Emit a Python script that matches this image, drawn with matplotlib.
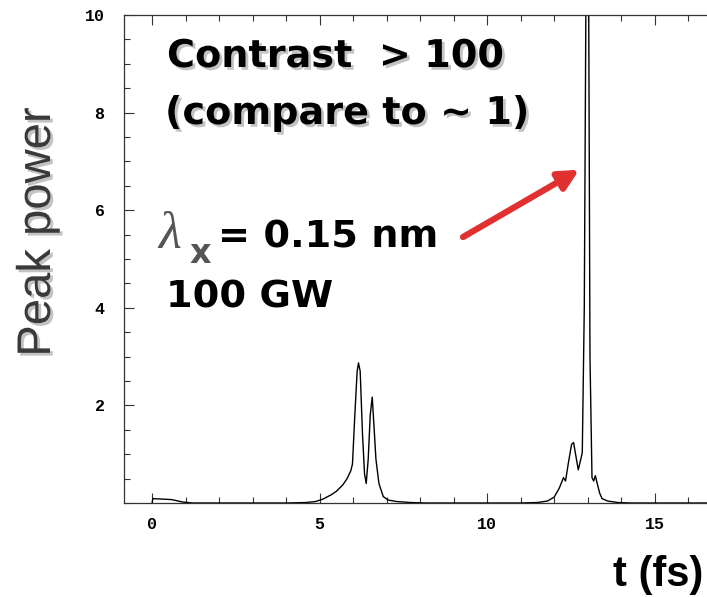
import numpy as np
import matplotlib
matplotlib.use("Agg")
import matplotlib.pyplot as plt
import matplotlib.patheffects as pe
from matplotlib.ticker import MultipleLocator

# pulse profile (t in fs, peak power)
t = [0.0, 0.02, 0.3, 0.58, 0.91, 1.2, 4.0, 4.6, 4.88, 5.1, 5.35, 5.5, 5.69,
     5.82, 5.93, 5.98, 6.05, 6.12, 6.16, 6.21, 6.28, 6.34, 6.39, 6.45, 6.51,
     6.57, 6.62, 6.68, 6.77, 6.9, 7.05, 7.3, 7.7, 8.2, 11.0, 11.5, 11.8,
     12.0, 12.15, 12.28, 12.34, 12.42, 12.52, 12.58, 12.64, 12.72, 12.78,
     12.84, 12.9, 12.95, 12.99, 13.03, 13.07, 13.13, 13.18, 13.23, 13.3,
     13.36, 13.43, 13.6, 13.9, 14.3, 17.0]
power = [0.0, 0.09, 0.08, 0.07, 0.02, 0.0, 0.0, 0.01, 0.03, 0.08, 0.17, 0.24,
         0.37, 0.5, 0.66, 0.8, 1.8, 2.7, 2.87, 2.7, 1.4, 0.6, 0.4, 0.9, 1.8,
         2.17, 1.6, 0.9, 0.4, 0.13, 0.06, 0.03, 0.01, 0.0, 0.0, 0.01, 0.04,
         0.12, 0.3, 0.52, 0.45, 0.8, 1.2, 1.24, 1.0, 0.68, 0.85, 1.03, 4.0,
         10.5, 13.0, 10.5, 3.0, 0.52, 0.45, 0.56, 0.36, 0.2, 0.09, 0.04, 0.01,
         0.0, 0.0]

W, H = 707, 597
fig = plt.figure(figsize=(W / 100, H / 100), dpi=100)

px_per_t = 33.5
t_min, t_max = -0.84, 17.0
left, right = 124, 124 + (t_max - t_min) * px_per_t
bottom, top = 503, 15
ax = fig.add_axes([left / W, 1 - bottom / H, (right - left) / W, (bottom - top) / H])

ax.plot(t, power, color="black", lw=1.0)
ax.set_xlim(t_min, t_max)
ax.set_ylim(0, 10)

ax.xaxis.set_major_locator(MultipleLocator(5))
ax.xaxis.set_minor_locator(MultipleLocator(1))
ax.yaxis.set_minor_locator(MultipleLocator(0.5))
ax.set_yticks([2, 4, 6, 8, 10])
ax.tick_params(which="both", direction="in", top=True, right=False,
               color="#333333")
ax.tick_params(which="major", length=7, width=0.8)
ax.tick_params(which="minor", length=4, width=0.8)
ax.tick_params(axis="y", pad=14)
ax.tick_params(axis="x", pad=10)
for lab in ax.get_xticklabels() + ax.get_yticklabels():
    lab.set_fontfamily("Liberation Mono")
    lab.set_fontsize(12)
    lab.set_fontweight("bold")
for sp in ax.spines.values():
    sp.set_linewidth(0.9)
    sp.set_color("#333333")

shadow = [pe.withSimplePatchShadow(offset=(2, -2), shadow_rgbFace="#888888", alpha=0.5)]
bold = dict(family="DejaVu Sans", weight="bold", color="black")


def fx(x):
    return x / W


def fy(y):
    return 1 - y / H


# y label
fig.text(fx(38), fy(232), "Peak power", rotation=90, ha="center", va="center",
         fontsize=34, family="Liberation Sans", color="#3a3a3a",
         path_effects=shadow)

# x label at the right edge
fig.text(fx(613), fy(586), "t (fs)", ha="left", va="baseline", fontsize=30,
         family="Liberation Sans", weight="bold", color="black")

fig.text(fx(167), fy(67), "Contrast  > 100", ha="left", va="baseline",
         fontsize=27.5, path_effects=shadow, **bold)
fig.text(fx(165), fy(124), "(compare to ~ 1)", ha="left", va="baseline",
         fontsize=27.5, path_effects=shadow, **bold)

fig.text(fx(158), fy(248), "λ", ha="left", va="baseline", fontsize=38,
         family="Liberation Serif", style="italic", color="#555555")
fig.text(fx(190), fy(263), "x", ha="left", va="baseline", fontsize=24,
         family="DejaVu Sans", weight="bold", color="#555555")
fig.text(fx(218), fy(248), "= 0.15 nm", ha="left", va="baseline",
         fontsize=27.5, **bold)
fig.text(fx(166), fy(308), "100 GW", ha="left", va="baseline",
         fontsize=27.5, **bold)

# red arrow towards the main spike
ax.annotate("", xy=(12.75, 6.83), xytext=(9.28, 5.45),
            arrowprops=dict(arrowstyle="-|>,head_length=1.2,head_width=0.6",
                            color="#e03030", lw=4.5, shrinkA=0, shrinkB=0))

fig.savefig("out.png", dpi=100)
